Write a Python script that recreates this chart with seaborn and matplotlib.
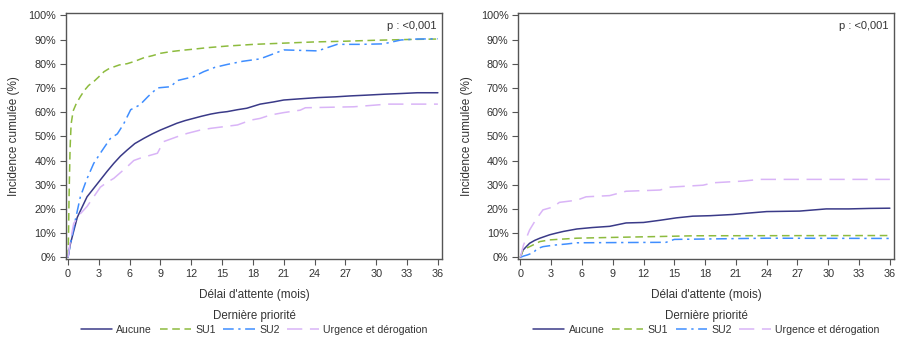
import numpy as np
import pandas as pd
import matplotlib
matplotlib.use("Agg")
import matplotlib.pyplot as plt
import seaborn as sns
from matplotlib.lines import Line2D

sns.set_style("ticks")
plt.rcParams['font.family'] = ['Liberation Sans', 'DejaVu Sans']

series_names = ["Aucune", "SU1", "SU2", "Urgence et dérogation"]
colors = ["#3A3A88", "#8DBB3E", "#3F8EFF", "#D9B4F7"]

# Left panel
L_aucune_t = [0, 0.2, 0.5, 0.9, 1.4, 1.85, 2.5, 3.15, 3.8, 4.45, 5.1, 5.75, 6.5, 7.4, 8.2, 9, 9.8, 10.6, 11.4, 12.2, 13, 13.9, 14.7, 15.5, 16.5, 17.4, 18.7, 20, 21, 22.6, 24.3, 26, 27.5, 29, 30.8, 32.5, 34, 36]
L_aucune_v = [0, 5, 10, 16.5, 21, 25, 28.5, 32, 35.5, 38.8, 41.8, 44.3, 47, 49.2, 51, 52.6, 54, 55.4, 56.5, 57.4, 58.3, 59.2, 59.8, 60.2, 61, 61.6, 63.3, 64.2, 65, 65.5, 66, 66.3, 66.7, 67, 67.4, 67.7, 68, 68]
L_su1_t = [0, 0.05, 0.1, 0.2, 0.3, 0.5, 0.8, 1.2, 1.6, 2, 2.5, 3, 3.5, 4, 5, 5.75, 6.5, 7.4, 8.2, 9, 10, 11, 12.2, 13.5, 15.5, 18.1, 21, 24, 27, 30, 33, 36]
L_su1_v = [0, 10, 25, 45, 55, 60.5, 63.5, 66.4, 69, 71, 72.6, 74.6, 76.7, 78, 79.5, 80, 81, 82.5, 83.3, 84.3, 85, 85.5, 86, 86.6, 87.3, 88, 88.5, 89, 89.3, 89.7, 90, 90.2]
L_su2_t = [0, 0.2, 0.45, 0.71, 1.2, 1.8, 2.5, 3.3, 4.1, 4.8, 5.4, 6.1, 7, 7.8, 8.7, 10, 10.6, 12.2, 13.2, 14.3, 15.5, 17, 18.7, 21, 24.3, 26.2, 28.5, 30.7, 32.4, 34, 36]
L_su2_v = [0, 5, 10, 15.4, 25, 32, 38.8, 44, 49, 51, 55, 61, 63, 66.5, 70, 70.5, 73, 74.6, 76.7, 78.5, 79.7, 81, 82, 85.7, 85.3, 88, 88, 88.2, 89.8, 90.2, 90.3]
L_urg_t = [0, 0.2, 0.55, 1.2, 1.85, 2.5, 3.15, 3.8, 4.45, 5.1, 5.75, 6.4, 7.05, 8.7, 9.3, 10.6, 11.6, 12.8, 13.9, 16.5, 17.8, 18.7, 19.7, 21, 22.6, 23.1, 27.8, 31.1, 36]
L_urg_v = [0, 6, 14, 18, 21, 25, 29, 31, 32.6, 35, 37.4, 40, 41, 43, 47.8, 49.8, 51.2, 52.5, 53.3, 54.7, 56.7, 57.4, 58.8, 59.8, 60.8, 61.8, 62.2, 63.3, 63.3]

# Right panel
R_aucune_t = [0, 0.26, 0.6, 0.9, 1.4, 1.9, 2.85, 3.5, 4.2, 5.5, 7, 8.7, 10.3, 12, 13.6, 15.2, 16.8, 18.5, 20.7, 22, 24, 27.2, 29.8, 32, 34, 36]
R_aucune_v = [0, 3, 4.5, 5.8, 7, 7.9, 9.3, 10, 10.7, 11.7, 12.3, 12.8, 14.2, 14.4, 15.3, 16.3, 17, 17.2, 17.7, 18.2, 18.9, 19.1, 20, 20, 20.2, 20.3]
R_su1_t = [0, 0.26, 0.9, 1.9, 2.85, 4, 5.5, 8.7, 13.6, 17, 36]
R_su1_v = [0, 3, 4.4, 6.5, 7.2, 7.5, 7.9, 8.2, 8.6, 8.9, 9.0]
R_su2_t = [0, 0.3, 0.7, 1.3, 1.6, 2.2, 3.2, 4.5, 5.5, 14.2, 15, 24, 36]
R_su2_v = [0, 0.5, 1, 2, 3.5, 4.4, 5, 5.5, 6, 6.2, 7.4, 7.9, 7.8]
R_urg_t = [0, 0.3, 0.9, 1.5, 2.2, 3.2, 3.8, 5.5, 6.4, 8.7, 10.3, 13.6, 14.6, 17.8, 18.8, 21.7, 23.3, 36]
R_urg_v = [0, 5, 11.3, 15.5, 19.6, 20.8, 22.7, 23.6, 25, 25.5, 27.3, 27.8, 29, 29.8, 30.8, 31.5, 32.2, 32.2]

x_ticks = list(range(0, 37, 3))
y_ticks = list(range(0, 101, 10))

dash_styles = {
    "Aucune": "-",
    "SU1": (0, (5, 3)),
    "SU2": (0, (7, 3, 1.5, 3)),
    "Urgence et dérogation": (0, (10, 5)),
}

def make_df(ts, vs):
    frames = []
    for name, t, v in zip(series_names, ts, vs):
        frames.append(pd.DataFrame({"t": t, "v": v, "prio": name}))
    return pd.concat(frames, ignore_index=True)

left_df = make_df([L_aucune_t, L_su1_t, L_su2_t, L_urg_t], [L_aucune_v, L_su1_v, L_su2_v, L_urg_v])
right_df = make_df([R_aucune_t, R_su1_t, R_su2_t, R_urg_t], [R_aucune_v, R_su1_v, R_su2_v, R_urg_v])

fig = plt.figure(figsize=(9, 3.4), dpi=100)
ax1 = fig.add_axes([0.0733, 0.2368, 0.4178, 0.726])
ax2 = fig.add_axes([0.5759, 0.2368, 0.4174, 0.726])

tc = "#333333"
for ax, df in [(ax1, left_df), (ax2, right_df)]:
    for name, col in zip(series_names, colors):
        sub = df[df["prio"] == name]
        sns.lineplot(data=sub, x="t", y="v", ax=ax, color=col, linewidth=1.1,
                     linestyle=dash_styles[name], legend=False)
    ax.set_xlim(-0.2, 36.4)
    ax.set_ylim(-0.9, 101.1)
    ax.set_xticks(x_ticks)
    ax.set_xticklabels([str(x) for x in x_ticks])
    ax.set_yticks(y_ticks)
    ax.set_yticklabels([f"{y}%" for y in y_ticks])
    ax.tick_params(axis="both", labelsize=7.8, colors="#555555", labelcolor=tc, length=4, width=0.8, direction="out", pad=3)
    for sp in ax.spines.values():
        sp.set_visible(True)
        sp.set_color("#555555")
        sp.set_linewidth(1.0)
    ax.set_xlabel("Délai d'attente (mois)", fontsize=8.5, color=tc, labelpad=7)
    ax.set_ylabel("Incidence cumulée (%)", fontsize=8.5, color=tc, labelpad=6)
    ax.text(0.985, 0.965, "p : <0,001", transform=ax.transAxes, ha="right", va="top", fontsize=8, color=tc)
    handles = [Line2D([], [], color=col, linewidth=1.1, linestyle=dash_styles[name])
               for name, col in zip(series_names, colors)]
    leg = ax.legend(handles, series_names, title="Dernière priorité", loc="upper center",
                    bbox_to_anchor=(0.5, -0.205), ncol=4, frameon=False, fontsize=7.6,
                    title_fontsize=8.3, handlelength=3.0, handletextpad=0.4, columnspacing=0.7,
                    borderaxespad=0, borderpad=0, labelspacing=0.2)
    for t in leg.get_texts():
        t.set_color(tc)
    leg.get_title().set_color(tc)
    leg._legend_box.sep = 2

fig.savefig("out.png", dpi=100)
